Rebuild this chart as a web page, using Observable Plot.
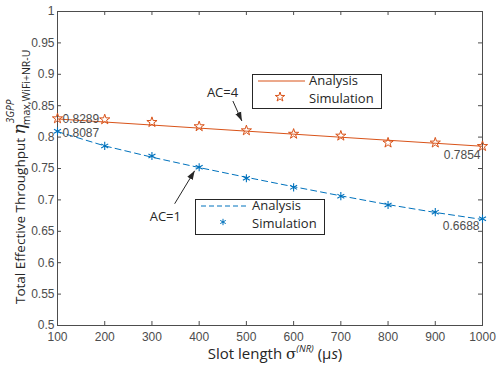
<!DOCTYPE html>
<html>
<head>
<meta charset="utf-8">
<script src="https://cdn.jsdelivr.net/npm/d3@7"></script>
<script src="https://cdn.jsdelivr.net/npm/@observablehq/plot@0.6"></script>
<style>
  html, body { margin: 0; padding: 0; background: #fff; }
  #chart svg { display: block; }
</style>
</head>
<body>
<div id="chart"></div>
<script>
// ---- data ----
const slotLength = [100, 200, 300, 400, 500, 600, 700, 800, 900, 1000];
const ac4Analysis = [0.8289, 0.8240, 0.8192, 0.8143, 0.8095, 0.8047, 0.7998, 0.7950, 0.7902, 0.7854];
const ac4Simulation = [0.8296, 0.8280, 0.8237, 0.8170, 0.8105, 0.8050, 0.8020, 0.7910, 0.7910, 0.7855];
const ac1Analysis = [0.8087, 0.7860, 0.7680, 0.7515, 0.7360, 0.7210, 0.7065, 0.6925, 0.6800, 0.6688];
const ac1Simulation = [0.8094, 0.7860, 0.7700, 0.7520, 0.7346, 0.7200, 0.7060, 0.6920, 0.6805, 0.6700];
const xTicks = [100, 200, 300, 400, 500, 600, 700, 800, 900, 1000];
const xTickLabels = ["100", "200", "300", "400", "500", "600", "700", "800", "900", "1000"];
const yTicks = [0.5, 0.55, 0.6, 0.65, 0.7, 0.75, 0.8, 0.85, 0.9, 0.95, 1];
const yTickLabels = ["0.5", "0.55", "0.6", "0.65", "0.7", "0.75", "0.8", "0.85", "0.9", "0.95", "1"];
const dataTips = [
  {series: "ac4", x: 100, y: 0.8289, label: "0.8289"},
  {series: "ac1", x: 100, y: 0.8087, label: "0.8087"},
  {series: "ac4", x: 1000, y: 0.7854, label: "0.7854"},
  {series: "ac1", x: 1000, y: 0.6688, label: "0.6688"}
];
const legendLabels = ["Analysis", "Simulation"];
const annotations = ["AC=4", "AC=1"];

const orange = "#D95319";
const blue = "#0072BD";
const axisGray = "#4d4d4d";

const ac4A = slotLength.map((x, i) => ({x, y: ac4Analysis[i]}));
const ac4S = slotLength.map((x, i) => ({x, y: ac4Simulation[i]}));
const ac1A = slotLength.map((x, i) => ({x, y: ac1Analysis[i]}));
const ac1S = slotLength.map((x, i) => ({x, y: ac1Simulation[i]}));

const W = 501, H = 365, mL = 57, mR = 19, mT = 11, mB = 40;
const fw = W - mL - mR, fh = H - mT - mB;
const tickLen = 4;

const chart = Plot.plot({
  width: W, height: H,
  marginLeft: mL, marginRight: mR, marginTop: mT, marginBottom: mB,
  x: {domain: [100, 1000]},
  y: {domain: [0.5, 1]},
  style: {fontFamily: "'Liberation Sans', Arial, sans-serif", fontSize: "12px", color: axisGray, background: "#fff"},
  marks: [
    Plot.axisX(xTicks, {tickSize: 0, tickPadding: 7, label: null, fill: axisGray, fontSize: 12,
      tickFormat: (d) => xTickLabels[xTicks.indexOf(d)]}),
    Plot.axisY(yTicks, {tickSize: 0, tickPadding: 3, label: null, fill: axisGray, fontSize: 12,
      tickFormat: (d) => yTickLabels[yTicks.indexOf(d)]}),
    // inward ticks on all four sides
    Plot.tickX(xTicks, {x: d => d, insetTop: fh - tickLen, stroke: axisGray}),
    Plot.tickX(xTicks, {x: d => d, insetBottom: fh - tickLen, stroke: axisGray}),
    Plot.tickY(yTicks, {y: d => d, insetRight: fw - tickLen, stroke: axisGray}),
    Plot.tickY(yTicks, {y: d => d, insetLeft: fw - tickLen, stroke: axisGray}),
    Plot.frame({stroke: axisGray}),
    Plot.line(ac4A, {x: "x", y: "y", stroke: orange, strokeWidth: 1}),
    Plot.line(ac1A, {x: "x", y: "y", stroke: blue, strokeWidth: 1, strokeDasharray: "6,4"}),
    Plot.dot(ac4S, {x: "x", y: "y", symbol: "star", r: 3.2, stroke: orange, fill: "none", strokeWidth: 1}),
    Plot.dot(ac1S, {x: "x", y: "y", symbol: "asterisk", r: 3.8, stroke: blue, strokeWidth: 1.1}),
    Plot.text(dataTips.filter(d => d.x === 100 && d.series === "ac4"), {x: "x", y: "y", text: "label",
      textAnchor: "start", dx: 5, dy: 0, fill: axisGray, fontSize: 12}),
    Plot.text(dataTips.filter(d => d.x === 100 && d.series === "ac1"), {x: "x", y: "y", text: "label",
      textAnchor: "start", dx: 5, dy: 2, fill: axisGray, fontSize: 12}),
    Plot.text(dataTips.filter(d => d.x === 1000 && d.series === "ac4"), {x: "x", y: "y", text: "label",
      textAnchor: "end", dx: -2, dy: 9, fill: axisGray, fontSize: 12}),
    Plot.text(dataTips.filter(d => d.x === 1000 && d.series === "ac1"), {x: "x", y: "y", text: "label",
      textAnchor: "end", dx: -3, dy: 7, fill: axisGray, fontSize: 12})
  ]
});

document.getElementById("chart").appendChild(chart);

const sx = chart.scale("x"), sy = chart.scale("y");
const svg = d3.select(chart);
const font2 = "'Open Sans', 'Noto Sans', sans-serif";
const dark = "#262626";

// ---- arrow marker ----
const defs = svg.append("defs");
defs.append("marker").attr("id", "arrowhead").attr("viewBox", "0 0 10 10")
  .attr("refX", 10).attr("refY", 5).attr("markerWidth", 9).attr("markerHeight", 9)
  .attr("markerUnits", "userSpaceOnUse").attr("orient", "auto")
  .append("path").attr("d", "M0,1.5 L10,5 L0,8.5 z").attr("fill", dark);

// AC=4 annotation, pointing at the simulation point at 500
{
  const px = sx.apply(500), py = sy.apply(ac4Simulation[4]);
  const tip = [px - 4, py - 9];
  svg.append("line").attr("x1", tip[0] - 9).attr("y1", tip[1] - 20).attr("x2", tip[0]).attr("y2", tip[1])
    .attr("stroke", dark).attr("stroke-width", 1).attr("marker-end", "url(#arrowhead)");
  svg.append("text").attr("x", tip[0] - 35).attr("y", tip[1] - 24).text(annotations[0])
    .attr("text-anchor", "start")
    .attr("font-family", font2).attr("font-size", 13).attr("fill", dark);
}
// AC=1 annotation, pointing at the simulation point at 400
{
  const px = sx.apply(400), py = sy.apply(ac1Simulation[3]);
  const tip = [px - 4, py + 4];
  svg.append("line").attr("x1", tip[0] - 20).attr("y1", tip[1] + 33).attr("x2", tip[0]).attr("y2", tip[1])
    .attr("stroke", dark).attr("stroke-width", 1).attr("marker-end", "url(#arrowhead)");
  svg.append("text").attr("x", tip[0] - 45).attr("y", tip[1] + 50).text(annotations[1])
    .attr("text-anchor", "start")
    .attr("font-family", font2).attr("font-size", 13).attr("fill", dark);
}

// ---- legends ----
function legend(x0, y0, w, h, color, dash, symbol) {
  const g = svg.append("g").attr("text-anchor", "start");
  g.append("rect").attr("x", x0 + 0.5).attr("y", y0 + 0.5).attr("width", w).attr("height", h)
    .attr("fill", "#fff").attr("stroke", dark).attr("stroke-width", 1);
  g.append("line").attr("x1", x0 + 6).attr("x2", x0 + 53).attr("y1", y0 + 7).attr("y2", y0 + 7)
    .attr("stroke", color).attr("stroke-width", 1).attr("stroke-dasharray", dash);
  g.append("path").attr("d", d3.symbol(symbol, 28)())
    .attr("transform", `translate(${x0 + 28},${y0 + 23})`)
    .attr("fill", "none").attr("stroke", color).attr("stroke-width", 1);
  g.append("text").attr("x", x0 + 57).attr("y", y0 + 11).text(legendLabels[0])
    .attr("font-family", font2).attr("font-size", 13).attr("fill", dark);
  g.append("text").attr("x", x0 + 57).attr("y", y0 + 29).text(legendLabels[1])
    .attr("font-family", font2).attr("font-size", 13).attr("fill", dark);
}
legend(252, 74, 129, 34, orange, null, d3.symbolStar);
legend(195, 199, 129, 35, blue, "5,3", d3.symbolAsterisk);

// ---- axis titles ----
{
  const t = svg.append("text").attr("x", 275).attr("y", 359).attr("text-anchor", "middle")
    .attr("font-family", font2).attr("font-size", 15).attr("fill", dark);
  t.append("tspan").text("Slot length ");
  t.append("tspan").text("σ").attr("font-family", "'DejaVu Serif', serif");
  t.append("tspan").text("(NR)").attr("font-size", 9.5).attr("font-style", "italic").attr("dy", -7);
  t.append("tspan").text(" (μ").attr("dy", 7);
  t.append("tspan").text("s").attr("font-style", "italic");
  t.append("tspan").text(")");
}
{
  const g = svg.append("g").attr("transform", "translate(25,304) rotate(-90)").attr("text-anchor", "start");
  const main = g.append("text").attr("x", 0).attr("y", 0)
    .attr("font-family", font2).attr("font-size", 13.5).attr("fill", dark);
  main.append("tspan").text("Total Effective Throughput ");
  main.append("tspan").text("η").attr("font-style", "italic").attr("font-size", 17).attr("font-family", "'DejaVu Serif', serif");
  const L = main.node().getComputedTextLength();
  g.append("text").attr("x", L + 1).attr("y", -11).text("3GPP")
    .attr("font-family", font2).attr("font-size", 10).attr("font-style", "italic").attr("fill", dark);
  g.append("text").attr("x", L - 1).attr("y", 5).text("max,WiFi+NR-U")
    .attr("font-family", font2).attr("font-size", 10.5).attr("fill", dark);
}
</script>
</body>
</html>
